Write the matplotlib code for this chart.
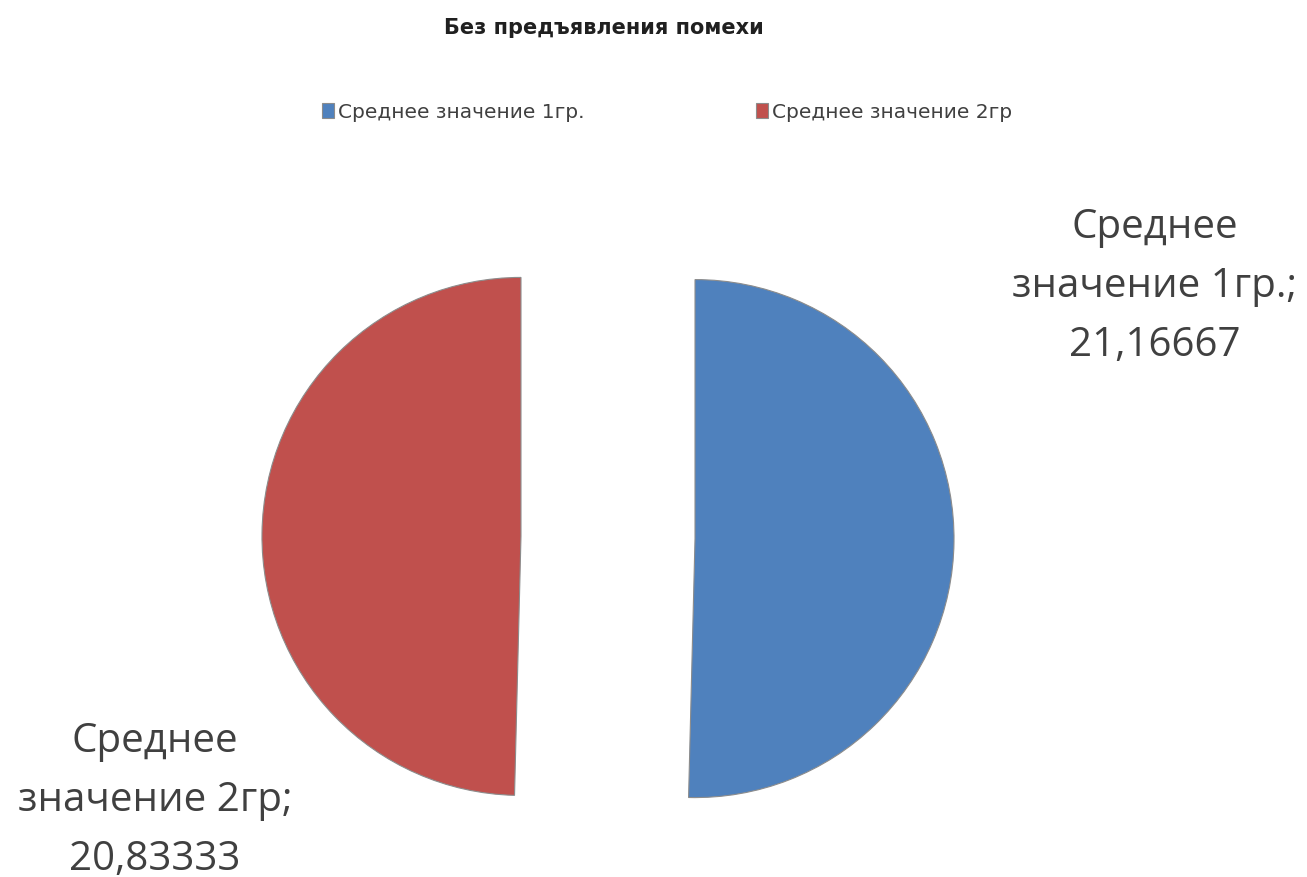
import matplotlib
matplotlib.use("Agg")
import matplotlib.pyplot as plt

plt.rcParams['font.family'] = ['Open Sans', 'DejaVu Sans']

title = "Без предъявления помехи"
categories = ["Среднее значение 1гр.", "Среднее значение 2гр"]
label_lines = ["Среднее\nзначение 1гр.;", "Среднее\nзначение 2гр;"]
values = [21.16667, 20.83333]
colors = ["#4F81BD", "#C0504D"]

W, H = 1307, 878
R = 259
fig = plt.figure(figsize=(W / 100, H / 100), dpi=100)
ax = fig.add_axes([0, 0, 1, 1])

# explode is in data units here, so scale by the radius
wedges, _ = ax.pie(values, colors=colors, startangle=90, counterclock=False,
                   center=(608, H - 538.5), radius=R, explode=[0.336 * R, 0.336 * R],
                   wedgeprops=dict(edgecolor="#8c8c8c", linewidth=0.8))
ax.set_xlim(0, W)
ax.set_ylim(0, H)
ax.axis("off")

# data labels
label_pos = [(1155, H - 287), (155, H - 801)]
for txt, v, (x, y) in zip(label_lines, values, label_pos):
    s = txt + "\n" + f"{v:.5f}".replace(".", ",")
    ax.text(x, y, s, ha="center", va="center", fontsize=29, color="#404040",
            linespacing=1.6)

fig.text(604 / W, 1 - 28 / H, title, ha="center", va="center",
         fontsize=15, fontweight="bold", color="#202020", family="DejaVu Sans")

fig.legend(wedges, categories, loc="center", bbox_to_anchor=(667 / W, 1 - 113 / H),
           ncol=2, frameon=False, prop={"family": "DejaVu Sans", "size": 14.5},
           handlelength=0.6, handleheight=0.8, handletextpad=0.2, columnspacing=8.5,
           labelcolor="#404040")

fig.savefig("out.png", dpi=100)
